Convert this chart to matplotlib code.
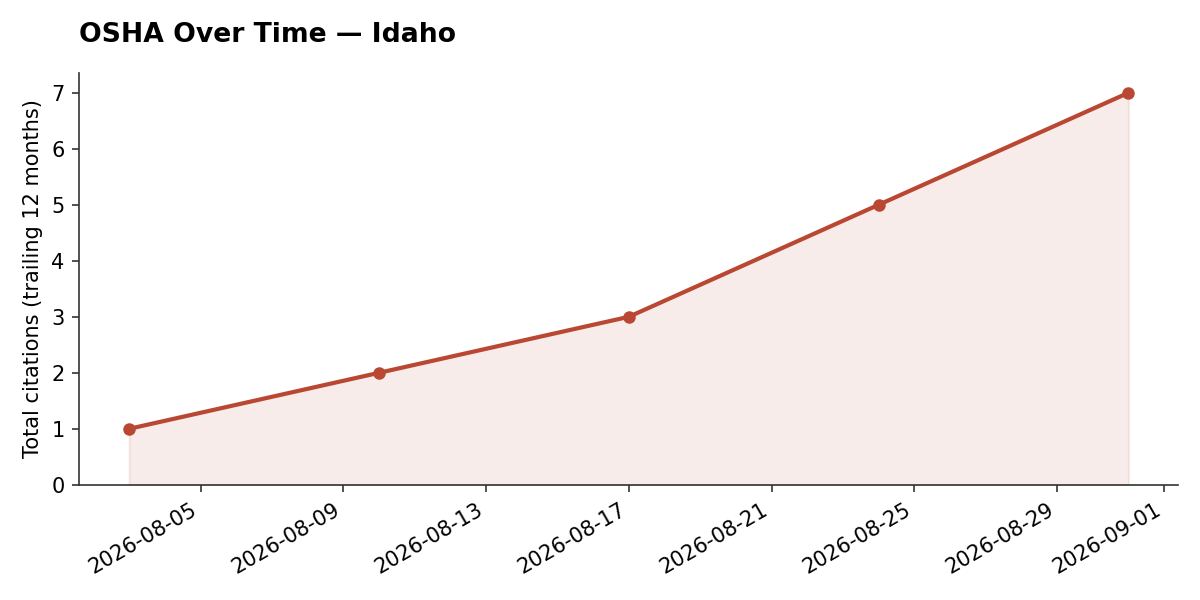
import matplotlib
matplotlib.use("Agg")
import matplotlib.pyplot as plt
import matplotlib.dates as mdates
import pandas as pd

dates = ["2026-08-03", "2026-08-10", "2026-08-17", "2026-08-24", "2026-08-31"]
citations = [1, 2, 3, 5, 7]

x = pd.to_datetime(dates)
color = "#b94732"

fig, ax = plt.subplots(figsize=(8, 4), dpi=150)
ax.fill_between(x, citations, 0, color=color, alpha=0.1)
ax.plot(x, citations, color=color, linewidth=2, marker="o", markersize=5)

ax.set_ylim(bottom=0)
ax.set_ylabel("Total citations (trailing 12 months)", fontsize=10)
ax.set_title("OSHA Over Time — Idaho", loc="left", fontsize=12.8, fontweight="bold", pad=15)
ax.xaxis.set_major_formatter(mdates.DateFormatter("%Y-%m-%d"))
ax.tick_params(labelsize=10, color="#333333")
for side in ["left", "bottom"]:
    ax.spines[side].set_color("#333333")
ax.spines["top"].set_visible(False)
ax.spines["right"].set_visible(False)
fig.autofmt_xdate()

fig.subplots_adjust(left=0.066, right=0.982, top=0.878, bottom=0.192)
fig.savefig("out.png")
